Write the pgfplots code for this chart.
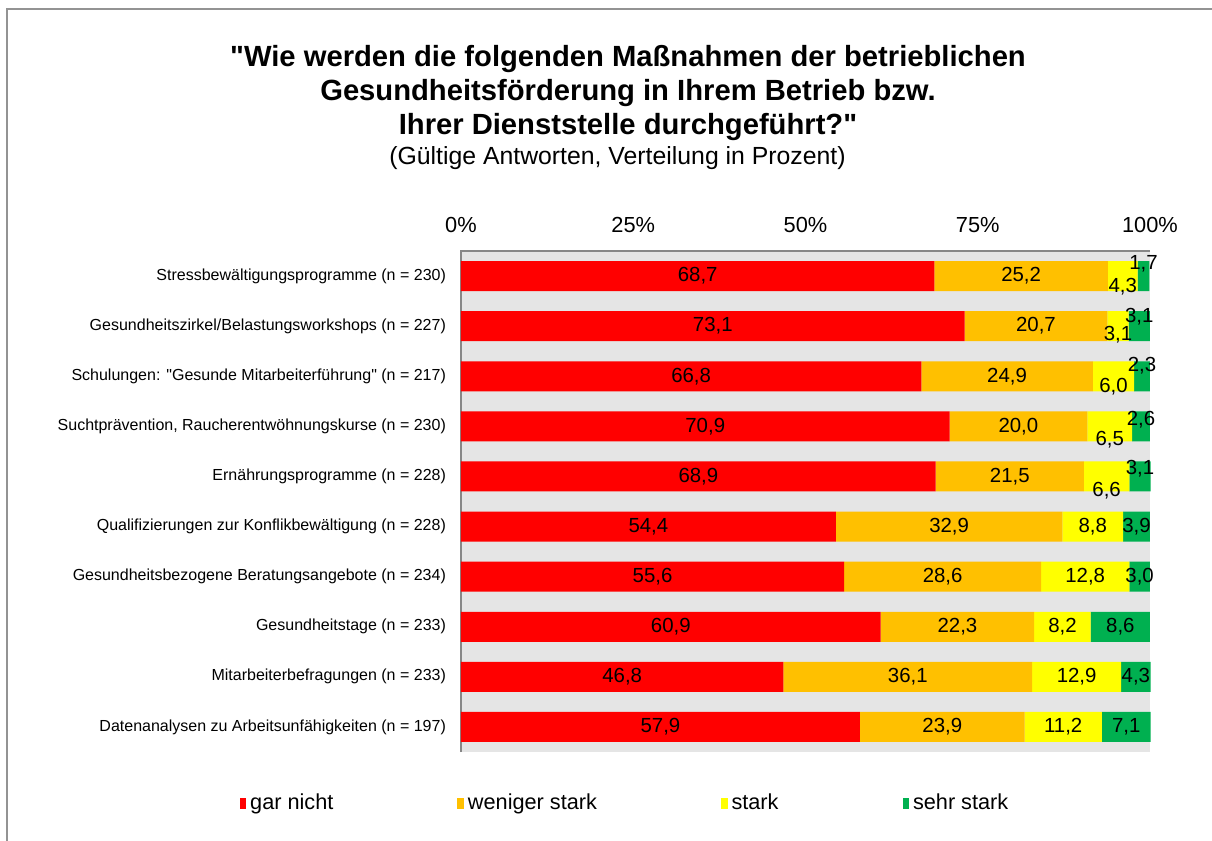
\documentclass[border=0pt]{standalone}
\usepackage{fontspec}
\setmainfont{Liberation Sans}[Ligatures=TeXOff]
\usepackage{pgfplots}
\usepackage{pgfplotstable}
\pgfplotsset{compat=1.18}
\definecolor{cRed}{HTML}{FF0000}
\definecolor{cOrange}{HTML}{FFC000}
\definecolor{cYellow}{HTML}{FFFF00}
\definecolor{cGreen}{HTML}{00B050}
\definecolor{bgGray}{HTML}{E5E5E5}
\definecolor{lineGray}{HTML}{878787}

\pgfplotstableread{
idx a b c d cdy ddy
0 68.7 25.2 4.3 1.7 -5.25 6.25
1 73.1 20.7 3.1 3.1 -4.5 4.75
2 66.8 24.9 6.0 2.3 -5.25 5.25
3 70.9 20.0 6.5 2.6 -6.5 3.5
4 68.9 21.5 6.6 3.1 -7.0 3.75
5 54.4 32.9 8.8 3.9 0 0
6 55.6 28.6 12.8 3.0 0 0
7 60.9 22.3 8.2 8.6 0 0
8 46.8 36.1 12.9 4.3 0 0
9 57.9 23.9 11.2 7.1 0 0
}\data

\begin{document}
\begin{tikzpicture}
\path[use as bounding box] (0,0) rectangle (606pt,-420.5pt);
\draw[color=lineGray!90!white, line width=1pt] (3.5pt,-420.5pt) -- (3.5pt,-4.5pt) -- (606pt,-4.5pt);
\node[font=\bfseries\fontsize{14.6}{17}\selectfont, align=center] at (314pt,-46.5pt)
  {"Wie werden die folgenden Maßnahmen der betrieblichen\\Gesundheitsförderung in Ihrem Betrieb bzw.\\Ihrer Dienststelle durchgeführt?"};
\node[font=\fontsize{12.4}{14}\selectfont] at (308.75pt,-79pt) {(Gültige Antworten, Verteilung in Prozent)};
\begin{axis}[
  at={(230.5pt,-376pt)}, anchor=south west,
  scale only axis, width=344.5pt, height=250.5pt,
  xbar stacked, bar width=15pt,
  xmin=0, xmax=100, ymin=-0.5, ymax=9.5, y dir=reverse,
  enlargelimits=false, clip=false,
  axis background/.style={fill=bgGray},
  axis line style={draw=none},
  major tick length=0pt,
  xtick={0,25,50,75,100},
  xticklabels={0\%,25\%,50\%,75\%,100\%},
  xticklabel pos=upper,
  xticklabel style={font=\fontsize{10.9}{12}\selectfont, anchor=south, yshift=5.5pt},
  ytick={0,...,9},
  yticklabels={
    {Stressbewältigungsprogramme (n = 230)},
    {Gesundheitszirkel/Belastungsworkshops (n = 227)},
    {Schulungen: "Gesunde Mitarbeiterführung" (n = 217)},
    {Suchtprävention, Raucherentwöhnungskurse (n = 230)},
    {Ernährungsprogramme (n = 228)},
    {Qualifizierungen zur Konflikbewältigung (n = 228)},
    {Gesundheitsbezogene Beratungsangebote (n = 234)},
    {Gesundheitstage (n = 233)},
    {Mitarbeiterbefragungen (n = 233)},
    {Datenanalysen zu Arbeitsunfähigkeiten (n = 197)}},
  yticklabel style={font=\fontsize{8}{9}\selectfont, anchor=east, xshift=-4pt},
  nodes near coords={\pgfmathprintnumber[fixed,fixed zerofill,precision=1,use comma,assume math mode=true]{\pgfplotspointmeta}},
  point meta=explicit,
  every node near coord/.append style={anchor=center, font=\fontsize{10.2}{12}\selectfont},
  legend columns=4,
  legend style={draw=none, fill=none, at={(0.2395,-0.102)}, anchor=center,
    font=\fontsize{10.85}{12}\selectfont,
    /tikz/every odd column/.style={column sep=0pt},
    /tikz/every even column/.style={column sep=60pt},
    /tikz/column 4/.style={column sep=62.5pt}},
  legend image code/.code={\fill[#1,draw=none] (0pt,-2.75pt) rectangle (3.25pt,2.75pt);},
]
\addplot[fill=cRed, draw=none]
  table[x=a, y=idx, meta=a]{\data};
\addlegendentry{gar nicht}
\addplot[fill=cOrange, draw=none]
  table[x=b, y=idx, meta=b]{\data};
\addlegendentry{weniger stark}
\addplot[fill=cYellow, draw=none,
  visualization depends on={\thisrow{cdy} \as \dv},
  every node near coord/.append style={yshift={\dv}}]
  table[x=c, y=idx, meta=c]{\data};
\addlegendentry{stark}
\addplot[fill=cGreen, draw=none,
  visualization depends on={\thisrow{ddy} \as \dv},
  every node near coord/.append style={yshift={\dv}}]
  table[x=d, y=idx, meta=d]{\data};
\addlegendentry{sehr stark}
\draw[lineGray, line width=1pt] (rel axis cs:0,0) -- (rel axis cs:0,1) -- (rel axis cs:1,1);
\end{axis}
\end{tikzpicture}
\end{document}
